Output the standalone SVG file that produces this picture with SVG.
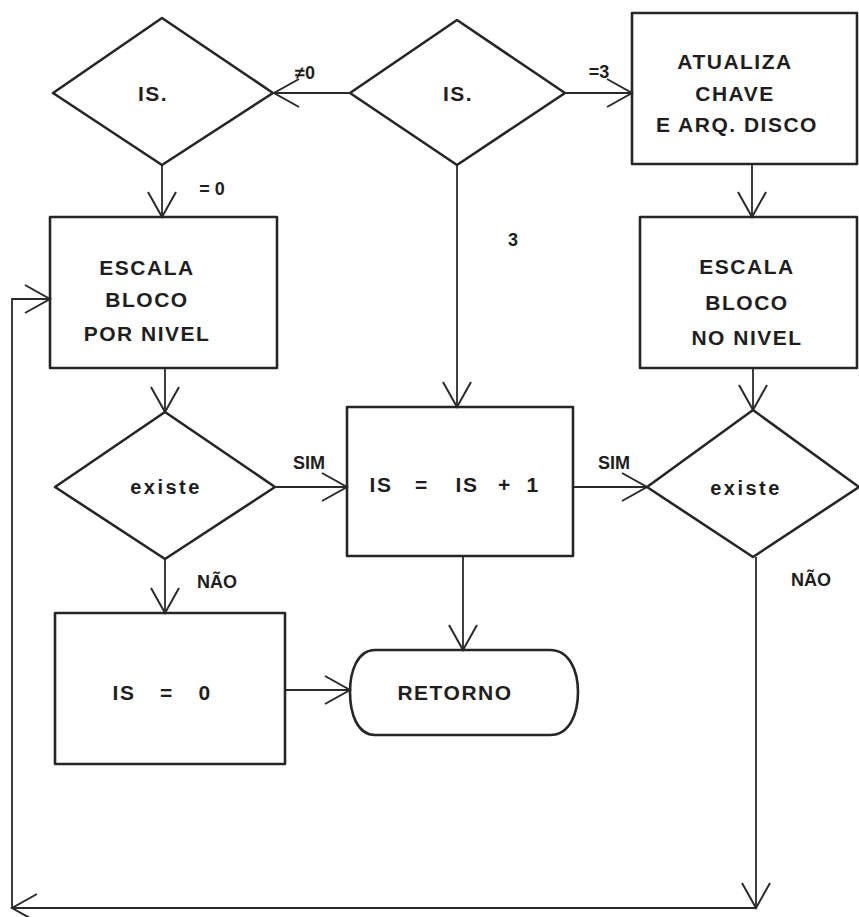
<svg xmlns="http://www.w3.org/2000/svg" width="859" height="917" viewBox="0 0 859 917">
<style>
.shape{fill:none;stroke:#262626;stroke-width:2.6;stroke-linejoin:round}
.conn{fill:none;stroke:#2a2a2a;stroke-width:1.8}
.t{font-family:"Liberation Sans",Arial,sans-serif;font-weight:bold;font-size:21px;fill:#1e1e1e;text-anchor:middle;dominant-baseline:central;letter-spacing:1.5px}
.lbl{font-family:"Liberation Sans",Arial,sans-serif;font-weight:bold;font-size:18px;fill:#1e1e1e;text-anchor:middle;dominant-baseline:central}
</style>
<defs>
<marker id="ah" viewBox="-28 -16 30 32" refX="0" refY="0" markerWidth="30" markerHeight="32" markerUnits="userSpaceOnUse" orient="auto">
<path d="M-25,-14 L0,0 L-25,14" fill="none" stroke="#2a2a2a" stroke-width="2"/>
</marker>
</defs>
<rect width="859" height="917" fill="#ffffff"/>

<g id="connectors">
<path class="conn" d="M350,93 H274" marker-end="url(#ah)"/>
<path class="conn" d="M565,93 H632" marker-end="url(#ah)"/>
<path class="conn" d="M162,165 V217" marker-end="url(#ah)"/>
<path class="conn" d="M457,165 V407" marker-end="url(#ah)"/>
<path class="conn" d="M752,164 V217" marker-end="url(#ah)"/>
<path class="conn" d="M165,368 V412" marker-end="url(#ah)"/>
<path class="conn" d="M275,487 H347" marker-end="url(#ah)"/>
<path class="conn" d="M573,487 H647" marker-end="url(#ah)"/>
<path class="conn" d="M753,368 V410" marker-end="url(#ah)"/>
<path class="conn" d="M165,559 V613" marker-end="url(#ah)"/>
<path class="conn" d="M285,690 H350" marker-end="url(#ah)"/>
<path class="conn" d="M463,556 V650" marker-end="url(#ah)"/>
<path class="conn" d="M756,557 V908" marker-end="url(#ah)"/>
<path class="conn" d="M756,908 H12" marker-end="url(#ah)"/>
<path class="conn" d="M12,908 V299 H50" marker-end="url(#ah)"/>
<text class="lbl" x="305" y="73">≠0</text>
<text class="lbl" x="599" y="72">=3</text>
<text class="lbl" x="212" y="189">= 0</text>
<text class="lbl" x="513" y="240">3</text>
<text class="lbl" x="309" y="463">SIM</text>
<text class="lbl" x="614" y="463">SIM</text>
<text class="lbl" x="217" y="582">NÃO</text>
<text class="lbl" x="811" y="580">NÃO</text>
</g>

<g id="d_is_left">
<polygon class="shape" points="53,93 162,18 273,93 162,165"/>
<text class="t" x="153" y="93">IS.</text>
</g>
<g id="d_is_center">
<polygon class="shape" points="350,93 457,20 565,93 457,165"/>
<text class="t" x="458" y="93">IS.</text>
</g>
<g id="b_atualiza">
<rect class="shape" x="632" y="13" width="225" height="151"/>
<text class="t" x="735" y="61">ATUALIZA</text>
<text class="t" x="735" y="93">CHAVE</text>
<text class="t" x="737" y="124">E ARQ. DISCO</text>
</g>
<g id="b_escala_por">
<rect class="shape" x="50" y="217" width="227" height="151"/>
<text class="t" x="147" y="267">ESCALA</text>
<text class="t" x="147" y="299">BLOCO</text>
<text class="t" x="147" y="333">POR NIVEL</text>
</g>
<g id="b_escala_no">
<rect class="shape" x="640" y="217" width="217" height="151"/>
<text class="t" x="747" y="266">ESCALA</text>
<text class="t" x="747" y="302">BLOCO</text>
<text class="t" x="747" y="337">NO NIVEL</text>
</g>
<g id="d_existe_left">
<polygon class="shape" points="55,487 165,412 275,487 165,559"/>
<text class="t" x="166" y="487" style="font-size:20px;letter-spacing:2.5px">existe</text>
</g>
<g id="b_is_inc">
<rect class="shape" x="347" y="407" width="226" height="149"/>
<text class="t" y="484"><tspan x="381">IS</tspan><tspan x="422">=</tspan><tspan x="467">IS</tspan><tspan x="505">+</tspan><tspan x="533">1</tspan></text>
</g>
<g id="d_existe_right">
<polygon class="shape" points="647,487 753,410 859,487 753,557"/>
<text class="t" x="746" y="488" style="font-size:20px;letter-spacing:2.5px">existe</text>
</g>
<g id="b_is_zero">
<rect class="shape" x="55" y="613" width="230" height="151"/>
<text class="t" y="692"><tspan x="124">IS</tspan><tspan x="167">=</tspan><tspan x="205">0</tspan></text>
</g>
<g id="t_retorno">
<path class="shape" d="M375,650 H550 C570,650 578,672 578,692 C578,713 570,735 550,735 H375 C357,735 350,713 350,692 C350,672 357,650 375,650 Z"/>
<text class="t" x="455" y="692">RETORNO</text>
</g>
</svg>
